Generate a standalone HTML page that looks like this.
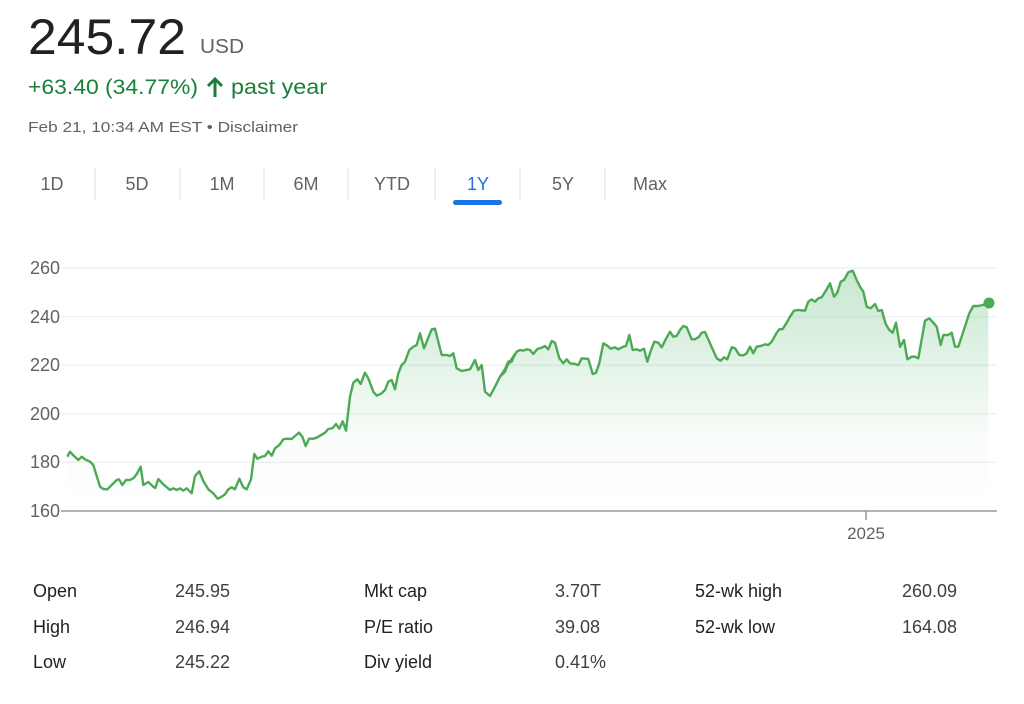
<!DOCTYPE html>
<html><head><meta charset="utf-8"><style>
html,body{margin:0;padding:0;background:#fff;width:1024px;height:704px;overflow:hidden}
svg text{font-family:"Liberation Sans",Arial,sans-serif}
</style></head><body>
<svg id="s" width="1024" height="704" viewBox="0 0 1024 704" xmlns="http://www.w3.org/2000/svg">
<defs>
<linearGradient id="g" x1="0" y1="268" x2="0" y2="511" gradientUnits="userSpaceOnUse">
<stop offset="0" stop-color="#34a853" stop-opacity="0.28"/>
<stop offset="0.7" stop-color="#34a853" stop-opacity="0.03"/>
<stop offset="1" stop-color="#34a853" stop-opacity="0"/>
</linearGradient>
</defs>
<text x="28" y="54" font-size="50" fill="#202124" textLength="158" lengthAdjust="spacingAndGlyphs">245.72</text>
<text x="200" y="53" font-size="20" fill="#5f6368" textLength="44" lengthAdjust="spacingAndGlyphs">USD</text>
<text x="28" y="94" font-size="21" fill="#188038" textLength="170" lengthAdjust="spacingAndGlyphs">+63.40 (34.77%)</text>
<path d="M215 97 V80 M208 86 L215 79 L222 86" stroke="#188038" stroke-width="3" fill="none"/>
<text x="231" y="94" font-size="21" fill="#188038" textLength="96" lengthAdjust="spacingAndGlyphs">past year</text>
<text x="28" y="132" font-size="15" fill="#5f6368" textLength="270" lengthAdjust="spacingAndGlyphs">Feb 21, 10:34 AM EST • Disclaimer</text>
<g font-size="18" fill="#5f6368" text-anchor="middle">
<text x="52" y="190">1D</text><text x="137" y="190">5D</text><text x="222" y="190">1M</text><text x="306" y="190">6M</text><text x="392" y="190">YTD</text><text x="478" y="190" fill="#1a73e8">1Y</text><text x="563" y="190">5Y</text><text x="650" y="190">Max</text>
</g>
<g stroke="#e0e0e0" stroke-width="1">
<line x1="95" y1="168" x2="95" y2="200"/><line x1="180" y1="168" x2="180" y2="200"/><line x1="264" y1="168" x2="264" y2="200"/><line x1="348" y1="168" x2="348" y2="200"/><line x1="435" y1="168" x2="435" y2="200"/><line x1="520" y1="168" x2="520" y2="200"/><line x1="605" y1="168" x2="605" y2="200"/>
</g>
<rect x="453" y="200" width="49" height="5" rx="2.5" fill="#1a73e8"/>
<g stroke="#f1f1f1" stroke-width="1.5">
<line x1="61" y1="268" x2="997" y2="268"/><line x1="61" y1="316.6" x2="997" y2="316.6"/><line x1="61" y1="365.2" x2="997" y2="365.2"/><line x1="61" y1="413.8" x2="997" y2="413.8"/><line x1="61" y1="462.4" x2="997" y2="462.4"/>
</g>
<g font-size="18" fill="#5f6368" text-anchor="end">
<text x="60" y="274">260</text><text x="60" y="323">240</text><text x="60" y="371">220</text><text x="60" y="420">200</text><text x="60" y="468">180</text><text x="60" y="517">160</text>
</g>
<path id="area" fill="url(#g)" d=""/>
<path id="line" fill="none" stroke="#4caa55" stroke-width="2.4" stroke-linejoin="round" d=""/>
<line x1="61" y1="511" x2="997" y2="511" stroke="#80868b" stroke-width="1.3"/>
<line x1="866" y1="511" x2="866" y2="520" stroke="#80868b" stroke-width="1.3"/>
<text x="866" y="539" font-size="17" fill="#5f6368" text-anchor="middle">2025</text>
<circle cx="989" cy="303" r="5.5" fill="#4caa55"/>
<g font-size="18" fill="#202124">
<text x="33" y="597">Open</text><text x="33" y="633">High</text><text x="33" y="668">Low</text>
<text x="364" y="597">Mkt cap</text><text x="364" y="633">P/E ratio</text><text x="364" y="668">Div yield</text>
<text x="695" y="597">52-wk high</text><text x="695" y="633">52-wk low</text>
</g>
<g font-size="18" fill="#3c4043">
<text x="175" y="597">245.95</text><text x="175" y="633">246.94</text><text x="175" y="668">245.22</text>
<text x="555" y="597">3.70T</text><text x="555" y="633">39.08</text><text x="555" y="668">0.41%</text>
<text x="957" y="597" text-anchor="end">260.09</text><text x="957" y="633" text-anchor="end">164.08</text>
</g>
</svg>
<script>
var a=[142,620,150,605,162,618,175,630,185,620,195,628,210,635,220,645,240,710,250,717,262,718,275,705,290,690,297,688,307,705,318,690,330,690,342,683,350,672,362,650,370,705,385,696,400,710,406,714,415,687,430,703,450,720,460,715,470,720,480,715,490,722,500,715,515,730,525,678,538,664,550,693,565,718,580,730,593,746,605,740,615,733,625,718,635,712,645,718,658,686,670,712,680,718,693,688,703,612,712,626,725,620,735,618,745,604,755,617,765,595,778,585,790,568,800,566,815,567,825,558,837,548,847,560,857,588,867,566,880,566,890,563,900,557,915,548,925,537,938,534,948,522,958,536,968,514,978,542,990,440,1000,398,1012,388,1022,402,1035,368,1045,385,1060,425,1070,437,1085,430,1095,420,1105,395,1115,390,1125,418,1135,370,1145,345,1155,335,1168,300,1180,290,1190,285,1200,250,1212,295,1235,238,1245,236,1265,315,1280,315,1290,318,1300,310,1310,355,1325,363,1350,358,1365,330,1375,360,1385,345,1395,425,1410,438,1425,410,1440,380,1455,365,1465,340,1475,335,1485,312];
var b=[0,380,10,368,25,335,35,332,50,305,60,300,70,302,80,298,90,300,100,312,112,297,125,293,135,288,145,298,155,273,165,278,178,325,190,340,200,328,210,340,225,342,235,345,245,325,265,327,278,372,288,368,298,340,310,280,322,287,332,296,345,292,355,298,370,290,378,288,388,255,398,300,410,298,420,302,432,296,442,335,452,303,463,275,475,278,485,292,497,268,510,245,520,260,530,258,540,240,550,228,560,232,575,268,585,268,597,260,605,248,615,246,630,280,650,325,662,332,672,322,682,328,695,292,705,295,718,315,730,316,740,310,750,290,760,310,770,290,785,287,795,283,805,285,815,275,830,248,838,238,848,237,860,218,870,200,882,182,895,180,915,182,925,155,935,148,945,155,955,145,965,142,980,118,990,100,1002,140,1012,128,1022,95,1032,90,1045,67,1058,62,1070,90,1080,110,1090,125,1100,170,1112,175,1125,162,1135,183,1145,180,1157,222,1168,240,1178,248,1188,218,1200,290,1212,270,1222,328,1235,320,1245,320,1255,325,1275,212,1288,205,1300,218,1310,230,1322,285,1330,255,1345,255,1355,248,1365,290,1375,290,1390,245,1408,190,1420,168,1435,168,1448,165,1465,160];
var p=[];
for(var i=0;i<a.length;i+=2)p.push([20+a[i]/3,250+a[i+1]/3]);
for(var i=0;i<b.length;i+=2)p.push([500+b[i]/3,250+b[i+1]/3]);
var d=p.map(function(q,i){return (i?'L':'M')+q[0].toFixed(1)+' '+q[1].toFixed(1)}).join(' ');
document.getElementById('line').setAttribute('d',d);
document.getElementById('area').setAttribute('d',d+' L'+p[p.length-1][0].toFixed(1)+' 511 L'+p[0][0].toFixed(1)+' 511 Z');
</script>
</body></html>
